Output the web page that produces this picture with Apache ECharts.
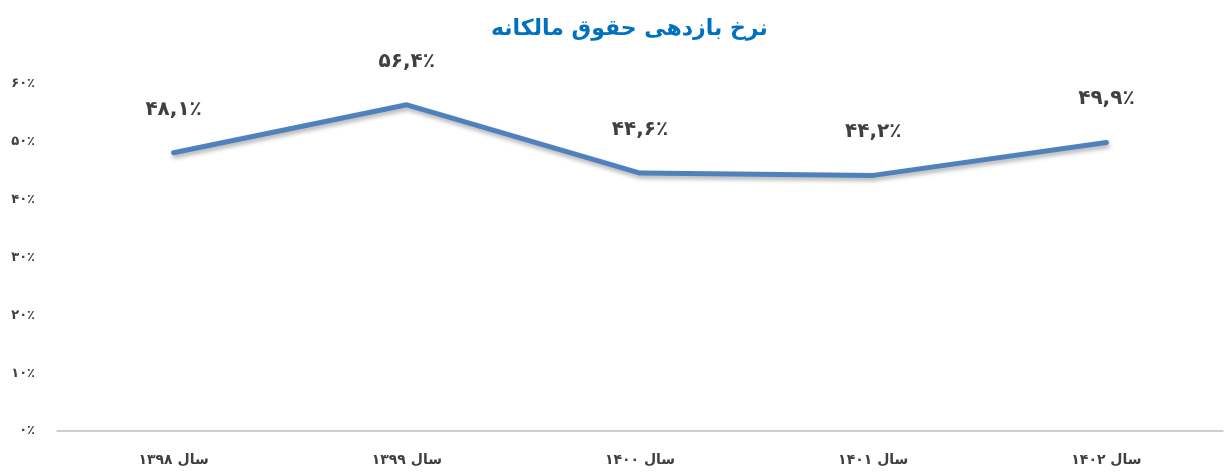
<!DOCTYPE html>
<html><head><meta charset="utf-8">
<script src="https://cdn.jsdelivr.net/npm/echarts@6/dist/echarts.min.js"></script>
<style>html,body{margin:0;padding:0;background:#fff}#c{width:1224px;height:474px}</style>
</head><body><div id="c"></div>
<script>
const titleText = 'نرخ بازدهی حقوق مالکانه';
const categories = ['سال ۱۳۹۸', 'سال ۱۳۹۹', 'سال ۱۴۰۰', 'سال ۱۴۰۱', 'سال ۱۴۰۲'];
const values = [48.1, 56.4, 44.6, 44.2, 49.9];
const yTicks = [0, 10, 20, 30, 40, 50, 60];

const fa = s => String(s).replace(/[0-9]/g, d => '۰۱۲۳۴۵۶۷۸۹'[d]).replace('.', ',');
const font = "'DejaVu Sans', 'Noto Sans', sans-serif";

const chart = echarts.init(document.getElementById('c'));
chart.setOption({
  animation: false,
  title: {
    text: titleText, left: 486, top: 13,
    textStyle: { color: '#0070c0', fontSize: 22, fontWeight: 'bold', fontFamily: font }
  },
  grid: { left: 57, right: 1, top: 84, bottom: 43 },
  xAxis: {
    type: 'category', data: categories, boundaryGap: true,
    axisLine: { lineStyle: { color: '#bfbfbf', width: 1.5 } },
    axisTick: { show: false },
    axisLabel: { color: '#404040', fontSize: 14, fontWeight: 'bold', fontFamily: font, margin: 22 }
  },
  yAxis: {
    type: 'value', min: yTicks[0], max: yTicks[yTicks.length - 1], interval: 10,
    splitLine: { show: false }, axisLine: { show: false }, axisTick: { show: false },
    axisLabel: { color: '#404040', fontSize: 13, fontWeight: 'bold', fontFamily: font, margin: 22,
      formatter: v => fa(v) + '٪' }
  },
  series: [{
    type: 'line', data: values, symbol: 'circle', symbolSize: 1, showSymbol: true,
    itemStyle: { color: 'rgba(0,0,0,0)', borderWidth: 0 },
    lineStyle: { color: '#4f81bd', width: 5, shadowColor: 'rgba(0,0,0,0.3)', shadowBlur: 4, shadowOffsetY: 3, shadowOffsetX: 1, cap: 'round', join: 'round' },
    label: { show: true, position: 'top', distance: 33, color: '#404040', fontSize: 20, fontWeight: 'bold', fontFamily: font,
      formatter: p => fa(p.value.toFixed(1)) + '٪' }
  }]
});
</script></body></html>
